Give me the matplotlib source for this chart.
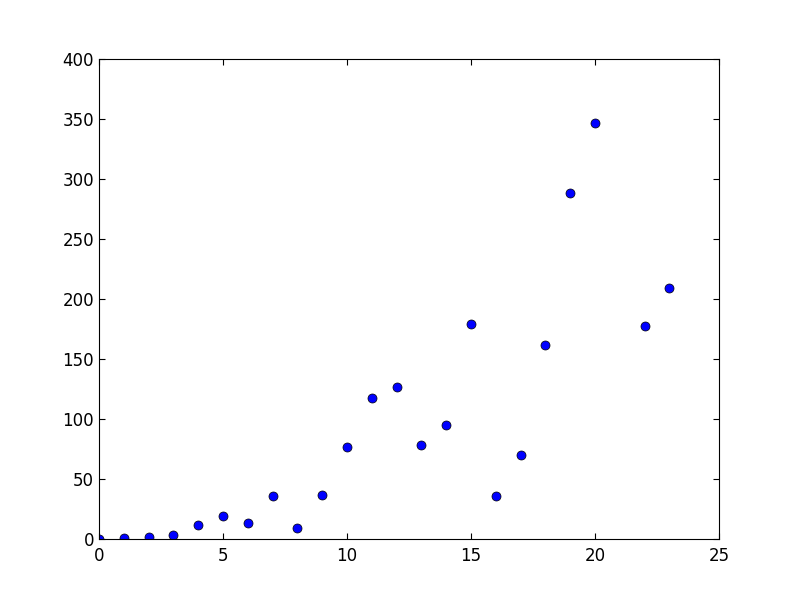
import matplotlib
matplotlib.use("Agg")
import matplotlib.pyplot as plt

x = [0, 1, 2, 3, 4, 5, 6, 7, 8, 9, 10, 11, 12, 13, 14, 15, 16, 17, 18, 19, 20, 22, 23]
y = [0, 0.5, 1.7, 3.3, 11.7, 19, 13, 36, 9, 36.5, 76.7, 117.5, 126.5, 78, 95,
     179, 35.7, 70, 161.7, 288.5, 347, 177.5, 209]

fig = plt.figure(figsize=(8, 6), dpi=100)
ax = fig.add_axes([0.12375, 0.1017, 0.775, 0.8])

ax.plot(x, y, 'o', color='blue', markeredgecolor='black', markeredgewidth=0.5, markersize=6.5)

ax.set_xlim(0, 25)
ax.set_ylim(0, 400)
ax.set_xticks(range(0, 26, 5))
ax.set_yticks(range(0, 401, 50))
ax.tick_params(direction='in', top=True, right=True, length=4, labelsize=12)
ax.tick_params(axis='x', pad=6)

fig.savefig("out.png", dpi=100)
